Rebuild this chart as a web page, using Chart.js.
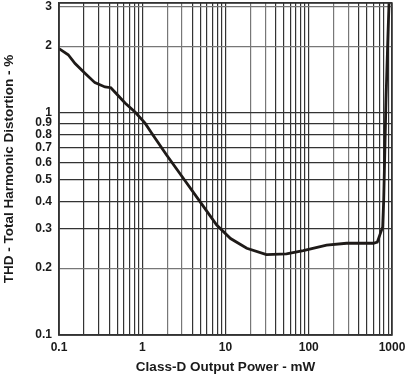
<!DOCTYPE html>
<html>
<head>
<meta charset="utf-8">
<script src="https://cdn.jsdelivr.net/npm/chart.js@4.4.1/dist/chart.umd.min.js"></script>
<style>
  html, body { margin: 0; padding: 0; background: #fff; }
  #wrap { width: 408px; height: 377px; }
</style>
</head>
<body>
<div id="wrap"><canvas id="thd"></canvas></div>
<script>
const powerMw = [0.1, 0.129, 0.156, 0.205, 0.27, 0.31, 0.357, 0.42, 0.471, 0.621, 0.819, 1.08, 1.3, 1.96, 3.11, 4.94,
  7.84, 11.5, 18, 31, 54, 86, 164, 285, 596, 666, 773, 795, 847, 883, 921];
const thdPct = [1.95, 1.83, 1.67, 1.51, 1.37, 1.34, 1.31, 1.30, 1.24, 1.11, 1.01, 0.9, 0.81, 0.647, 0.508, 0.399,
  0.313, 0.272, 0.246, 0.230, 0.232, 0.240, 0.254, 0.259, 0.259, 0.262, 0.307, 0.406, 1.145, 1.92, 3.13];

const xTicks = [0.1, 0.2, 0.3, 0.4, 0.5, 0.6, 0.7, 0.8, 0.9, 1, 2, 3, 4, 5, 6, 7, 8, 9,
  10, 20, 30, 40, 50, 60, 70, 80, 90, 100, 200, 300, 400, 500, 600, 700, 800, 900, 1000];
const xLabels = [0.1, 1, 10, 100, 1000];
const yTicks = [0.1, 0.2, 0.3, 0.4, 0.5, 0.6, 0.7, 0.8, 0.9, 1, 2, 3, 3.13];
const yLabels = [0.1, 0.2, 0.3, 0.4, 0.5, 0.6, 0.7, 0.8, 0.9, 1, 2, 3];

const font = { family: '"Liberation Sans", Arial, sans-serif', weight: 'bold' };

const frame = {
  id: 'frame',
  afterDraw(chart) {
    const { ctx, chartArea: a } = chart;
    ctx.save();
    ctx.strokeStyle = '#333';
    ctx.lineWidth = 1.5;
    ctx.strokeRect(a.left, a.top, a.right - a.left, a.bottom - a.top);
    ctx.restore();
  }
};

new Chart(document.getElementById('thd').getContext('2d'), {
  type: 'scatter',
  data: {
    datasets: [{
      data: powerMw.map((x, i) => ({ x, y: thdPct[i] })),
      showLine: true,
      borderColor: '#1e1a18',
      borderWidth: 2.8,
      pointRadius: 0,
      tension: 0
    }]
  },
  options: {
    responsive: true,
    maintainAspectRatio: false,
    animation: false,
    layout: { padding: { top: 3, right: 16, left: 0, bottom: 0 } },
    plugins: { legend: { display: false }, tooltip: { enabled: false } },
    scales: {
      x: {
        type: 'logarithmic',
        min: 0.1,
        max: 1000,
        afterBuildTicks: (s) => { s.ticks = xTicks.map((value) => ({ value })); },
        afterFit: (s) => { s.height = 42; s.paddingLeft = 0; s.paddingRight = 0; },
        grid: {
          color: (c) => ([2, 3, 20, 30, 200, 300].includes(c.tick && c.tick.value) ? '#777' : '#333'),
          lineWidth: 1.2,
          drawTicks: false
        },
        border: { color: '#333', width: 1.5 },
        ticks: {
          autoSkip: false,
          maxRotation: 0,
          padding: 5,
          color: '#1a1a1a',
          font: { ...font, size: 12 },
          callback: (v) => (xLabels.includes(v) ? String(v) : '')
        },
        title: {
          display: true,
          text: 'Class-D Output Power - mW',
          color: '#1a1a1a',
          font: { ...font, size: 13.5 },
          padding: { top: 0, bottom: 2 }
        }
      },
      y: {
        type: 'logarithmic',
        min: 0.1,
        max: 3.13,
        afterBuildTicks: (s) => { s.ticks = yTicks.map((value) => ({ value })); },
        afterFit: (s) => { s.width = 59; s.paddingTop = 0; s.paddingBottom = 0; },
        grid: {
          color: (c) => ([2, 3, 0.2].includes(c.tick && c.tick.value) ? '#777' : '#333'),
          lineWidth: 1.2,
          drawTicks: false
        },
        border: { color: '#333', width: 1.5 },
        ticks: {
          autoSkip: false,
          padding: 7,
          color: '#1a1a1a',
          font: { ...font, size: 12 },
          callback: (v) => (yLabels.includes(v) ? String(v) : '')
        },
        title: {
          display: true,
          text: 'THD - Total Harmonic Distortion - %',
          color: '#1a1a1a',
          font: { ...font, size: 13.5 },
          padding: { top: 1, bottom: 0 }
        }
      }
    }
  },
  plugins: [frame]
});
</script>
</body>
</html>
